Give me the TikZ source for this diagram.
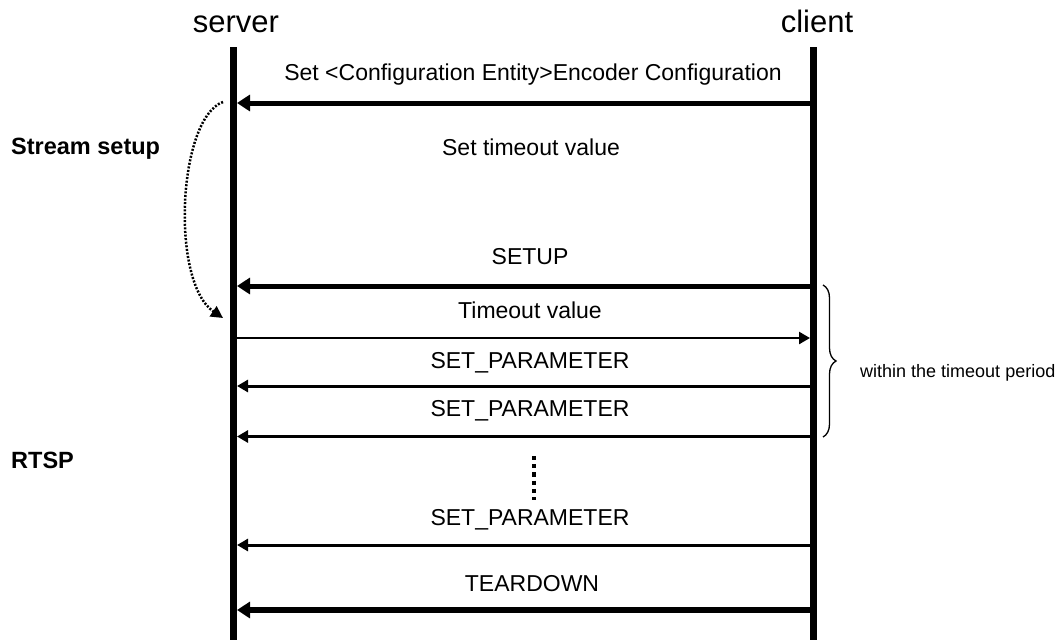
\documentclass[tikz,border=0pt]{standalone}
\usepackage{fontspec}
\setmainfont{Liberation Sans}
\usetikzlibrary{arrows.meta,decorations.pathreplacing}
\begin{document}
\begin{tikzpicture}[x=1pt,y=-1pt,
  life/.style={line width=7pt},
  thickmsg/.style={line width=5pt,-{Triangle[length=13pt,width=16pt]}},
  thinmsg/.style={line width=3pt,-{Triangle[length=11pt,width=12pt]}},
  lbl/.style={font=\fontsize{23}{27}\selectfont, anchor=base, inner sep=0},
  headlbl/.style={font=\fontsize{31}{38}\selectfont, anchor=base, inner sep=0},
  side/.style={font=\bfseries\fontsize{23.5}{27}\selectfont, anchor=base west, inner sep=0},
  note/.style={font=\fontsize{18}{22}\selectfont, anchor=base west, inner sep=0}]
\useasboundingbox (0,0) rectangle (1062,640);
\fill[white] (0,0) rectangle (1062,640);

% lifelines
\coordinate (sT) at (233.5,47);
\coordinate (sB) at (233.5,640);
\coordinate (cT) at (813.5,47);
\coordinate (cB) at (813.5,640);
\draw[life] (sT) -- (sB);
\draw[life] (cT) -- (cB);
\node[headlbl] (server) at (236,32) {server};
\node[headlbl] (client) at (817,32) {client};

% message end points
\coordinate (c1) at (813.5,103);  \coordinate (s1) at (237,103);
\coordinate (c2) at (813.5,286);  \coordinate (s2) at (237,286);
\coordinate (s3) at (233.5,338);  \coordinate (c3) at (810,338);
\coordinate (c4) at (813.5,386);  \coordinate (s4) at (237,386);
\coordinate (c5) at (813.5,436.5);\coordinate (s5) at (237,436.5);
\coordinate (c6) at (813.5,545);  \coordinate (s6) at (237,545);
\coordinate (c7) at (813.5,610);  \coordinate (s7) at (237,610);

\draw[thickmsg] (c1) -- (s1);
\draw[thickmsg] (c2) -- (s2);
\draw[thinmsg, line width=2.5pt] (s3) -- (c3);
\draw[thinmsg] (c4) -- (s4);
\draw[thinmsg] (c5) -- (s5);
\draw[thinmsg] (c6) -- (s6);
\draw[thickmsg, line width=6pt] (c7) -- (s7);

% labels
\node[lbl] (l1) at (533,80) {Set <Configuration Entity>Encoder Configuration};
\node[lbl] (l2) at (531,155) {Set timeout value};
\node[lbl] (l3) at (530,264) {SETUP};
\node[lbl] (l4) at (530,318) {Timeout value};
\node[lbl] (l5) at (530,368) {SET\_PARAMETER};
\node[lbl] (l6) at (530,416) {SET\_PARAMETER};
\node[lbl] (l7) at (530,525) {SET\_PARAMETER};
\node[lbl] (l8) at (532,591) {TEARDOWN};

\node[side] (ss) at (11,154) {Stream setup};
\node[side] (rtsp) at (11,468) {RTSP};

% dotted curved arrow
\coordinate (da) at (223,102);
\coordinate (db) at (223,318);
\draw[line width=2.5pt, dash pattern=on 2pt off 1.6pt, -{Triangle[length=12pt,width=12pt]}]
  (da) .. controls (178,118) and (170,282) .. (db);

% vertical dots
\coordinate (v1) at (534,456);
\coordinate (v2) at (534,500);
\draw[line width=4.5pt, dash pattern=on 4.2pt off 4pt] (v1) -- (v2);

% brace
\coordinate (b1) at (823,285);
\coordinate (b2) at (823,437);
\draw[line width=1.3pt, decorate, decoration={brace, amplitude=13pt}] (b1) -- (b2);
\node[note] (within) at (860,377) {within the timeout period};
\end{tikzpicture}
\end{document}
